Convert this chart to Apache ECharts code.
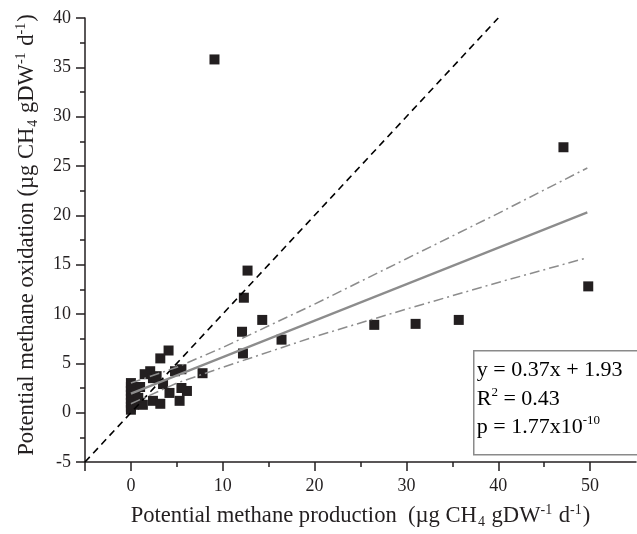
<!DOCTYPE html>
<html>
<head>
<meta charset="utf-8">
<script src="https://cdn.jsdelivr.net/npm/echarts@6/dist/echarts.min.js"></script>
<style>
  html, body { margin: 0; padding: 0; background: #fff; }
  #main { width: 637px; height: 534px; }
</style>
</head>
<body>
<div id="main"></div>
<script>
// measured points: potential production (x) vs oxidation (y)
var prodX = [9.1, 47.1, 49.8, 12.7, 12.3, 14.3, 12.1, 16.4, 12.2, 26.5, 31.0, 35.7, 7.8,
             4.1, 3.2, 2.1, 4.8, 5.5, 1.5, 2.4, 3.5, 5.5, 6.1, 5.3, 2.4, 1.3, 3.2, 4.2, 2.8,
             0, 0, 0, 0, 0, 0, 0, 0, 0.5, 0.8, 1.0, 0.3];
var oxidY = [35.8, 26.9, 12.8, 14.4, 11.65, 9.4, 8.2, 7.4, 6.0, 8.9, 9.0, 9.4, 4.0,
             6.3, 5.5, 4.2, 4.2, 4.4, 3.9, 3.5, 2.9, 2.5, 2.2, 1.2, 1.2, 0.8, 0.9, 2.0, 3.7,
             3.0, 2.6, 2.2, 1.8, 1.4, 1.0, 0.6, 0.3, 2.0, 1.5, 2.6, 0.8];

// 1:1 reference line
var oneX = [-5, 40];
var oneY = [-5, 40];

// regression line and its confidence band
var fitX = [0, 49.7];
var fitY = [1.93, 20.3];
var bandX = [0, 5, 10, 20, 30, 40, 49.7];
var upperY = [3.0, 4.6, 6.6, 11.0, 15.6, 20.2, 24.8];
var lowerY = [0.9, 3.0, 4.6, 7.7, 10.5, 13.2, 15.7];

var xMajor = [-5, 0, 10, 20, 30, 40, 50];
var xLabels = [0, 10, 20, 30, 40, 50];
var xMinor = [5, 15, 25, 35, 45];

function zip(a, b) {
    var out = [];
    for (var i = 0; i < a.length; i++) out.push([a[i], b[i]]);
    return out;
}

var serif = 'Liberation Serif';
var ink = '#231f20';
var grey = '#8c8c8c';

var unitRich = {
    t: { fontFamily: serif, fontSize: 22.6, color: ink, lineHeight: 26 },
    sub: { fontFamily: serif, fontSize: 14, color: ink, lineHeight: 12, verticalAlign: 'bottom', padding: [0, 1, 0, 1] },
    sup: { fontFamily: serif, fontSize: 14, color: ink, lineHeight: 16, verticalAlign: 'top', padding: [0, 1, 0, 0] }
};
var boxRich = {
    t: { fontFamily: serif, fontSize: 22, color: ink, lineHeight: 26 },
    s: { fontFamily: serif, fontSize: 13, color: ink, lineHeight: 14, verticalAlign: 'top' }
};

var myChart = echarts.init(document.getElementById('main'), null, { renderer: 'canvas' });

var option = {
    animation: false,
    backgroundColor: '#fff',
    grid: { left: 85, right: 1, top: 18, bottom: 69, containLabel: false },
    xAxis: [
        {
            type: 'value', min: -5, max: 55, position: 'bottom',
            axisLine: { onZero: false, lineStyle: { color: ink, width: 1.5 } },
            axisTick: { customValues: xMajor, length: 9, lineStyle: { color: ink, width: 1.5 } },
            axisLabel: { customValues: xLabels, fontFamily: serif, fontSize: 18, color: ink, margin: 15 },
            splitLine: { show: false },
            name: '{t|Potential methane production  (µg CH}{sub|4}{t| gDW}{sup|-1}{t| d}{sup|-1}{t|)}',
            nameLocation: 'middle', nameGap: 41,
            nameTextStyle: { rich: unitRich }
        },
        {
            type: 'value', min: -5, max: 55, position: 'bottom',
            axisLine: { show: false, onZero: false },
            axisTick: { customValues: xMinor, length: 5, lineStyle: { color: ink, width: 1.5 } },
            axisLabel: { show: false },
            splitLine: { show: false }
        }
    ],
    yAxis: {
        type: 'value', min: -5, max: 40, interval: 5,
        axisLine: { show: true, onZero: false, lineStyle: { color: ink, width: 1.5 } },
        axisTick: { show: true, length: 9, lineStyle: { color: ink, width: 1.5 } },
        minorTick: { show: true, splitNumber: 2, length: 5, lineStyle: { color: ink, width: 1.5 } },
        axisLabel: { fontFamily: serif, fontSize: 18, color: ink, margin: 14 },
        splitLine: { show: false },
        name: '{t|Potential methane oxidation (µg CH}{sub|4}{t| gDW}{sup|-1}{t| d}{sup|-1}{t|)}',
        nameLocation: 'middle', nameRotate: 90, nameGap: 45,
        nameTextStyle: { rich: unitRich, padding: [0, 0, 0, 10] }
    },
    series: [
        {
            type: 'scatter', symbol: 'rect', symbolSize: 10,
            itemStyle: { color: ink, opacity: 1 },
            data: zip(prodX, oxidY), z: 2
        },
        {
            type: 'line', showSymbol: false, symbol: 'none',
            lineStyle: { color: '#000', width: 1.6, type: [7, 5] },
            data: zip(oneX, oneY), z: 3
        },
        {
            type: 'line', showSymbol: false, symbol: 'none',
            lineStyle: { color: grey, width: 2.2 },
            data: zip(fitX, fitY), z: 3
        },
        {
            type: 'line', showSymbol: false, symbol: 'none',
            lineStyle: { color: grey, width: 1.5, type: [10, 4, 2, 4] },
            data: zip(bandX, upperY), z: 3
        },
        {
            type: 'line', showSymbol: false, symbol: 'none',
            lineStyle: { color: grey, width: 1.5, type: [10, 4, 2, 4] },
            data: zip(bandX, lowerY), z: 3
        }
    ],
    graphic: [
        {
            type: 'group', left: 473, top: 350, z: 10,
            children: [
                { type: 'rect', shape: { x: 0, y: 0, width: 170, height: 104 },
                  style: { fill: '#fff', stroke: '#8a8a8a', lineWidth: 1.5 } },
                { type: 'text', x: 3, y: 6,
                  style: { text: '{t|y = 0.37x + 1.93}', rich: boxRich, verticalAlign: 'top' } },
                { type: 'text', x: 3, y: 35,
                  style: { text: '{t|R}{s|2}{t| = 0.43}', rich: boxRich, verticalAlign: 'top' } },
                { type: 'text', x: 3, y: 63,
                  style: { text: '{t|p = 1.77x10}{s|-10}', rich: boxRich, verticalAlign: 'top' } }
            ]
        }
    ]
};

myChart.setOption(option);
</script>
</body>
</html>
